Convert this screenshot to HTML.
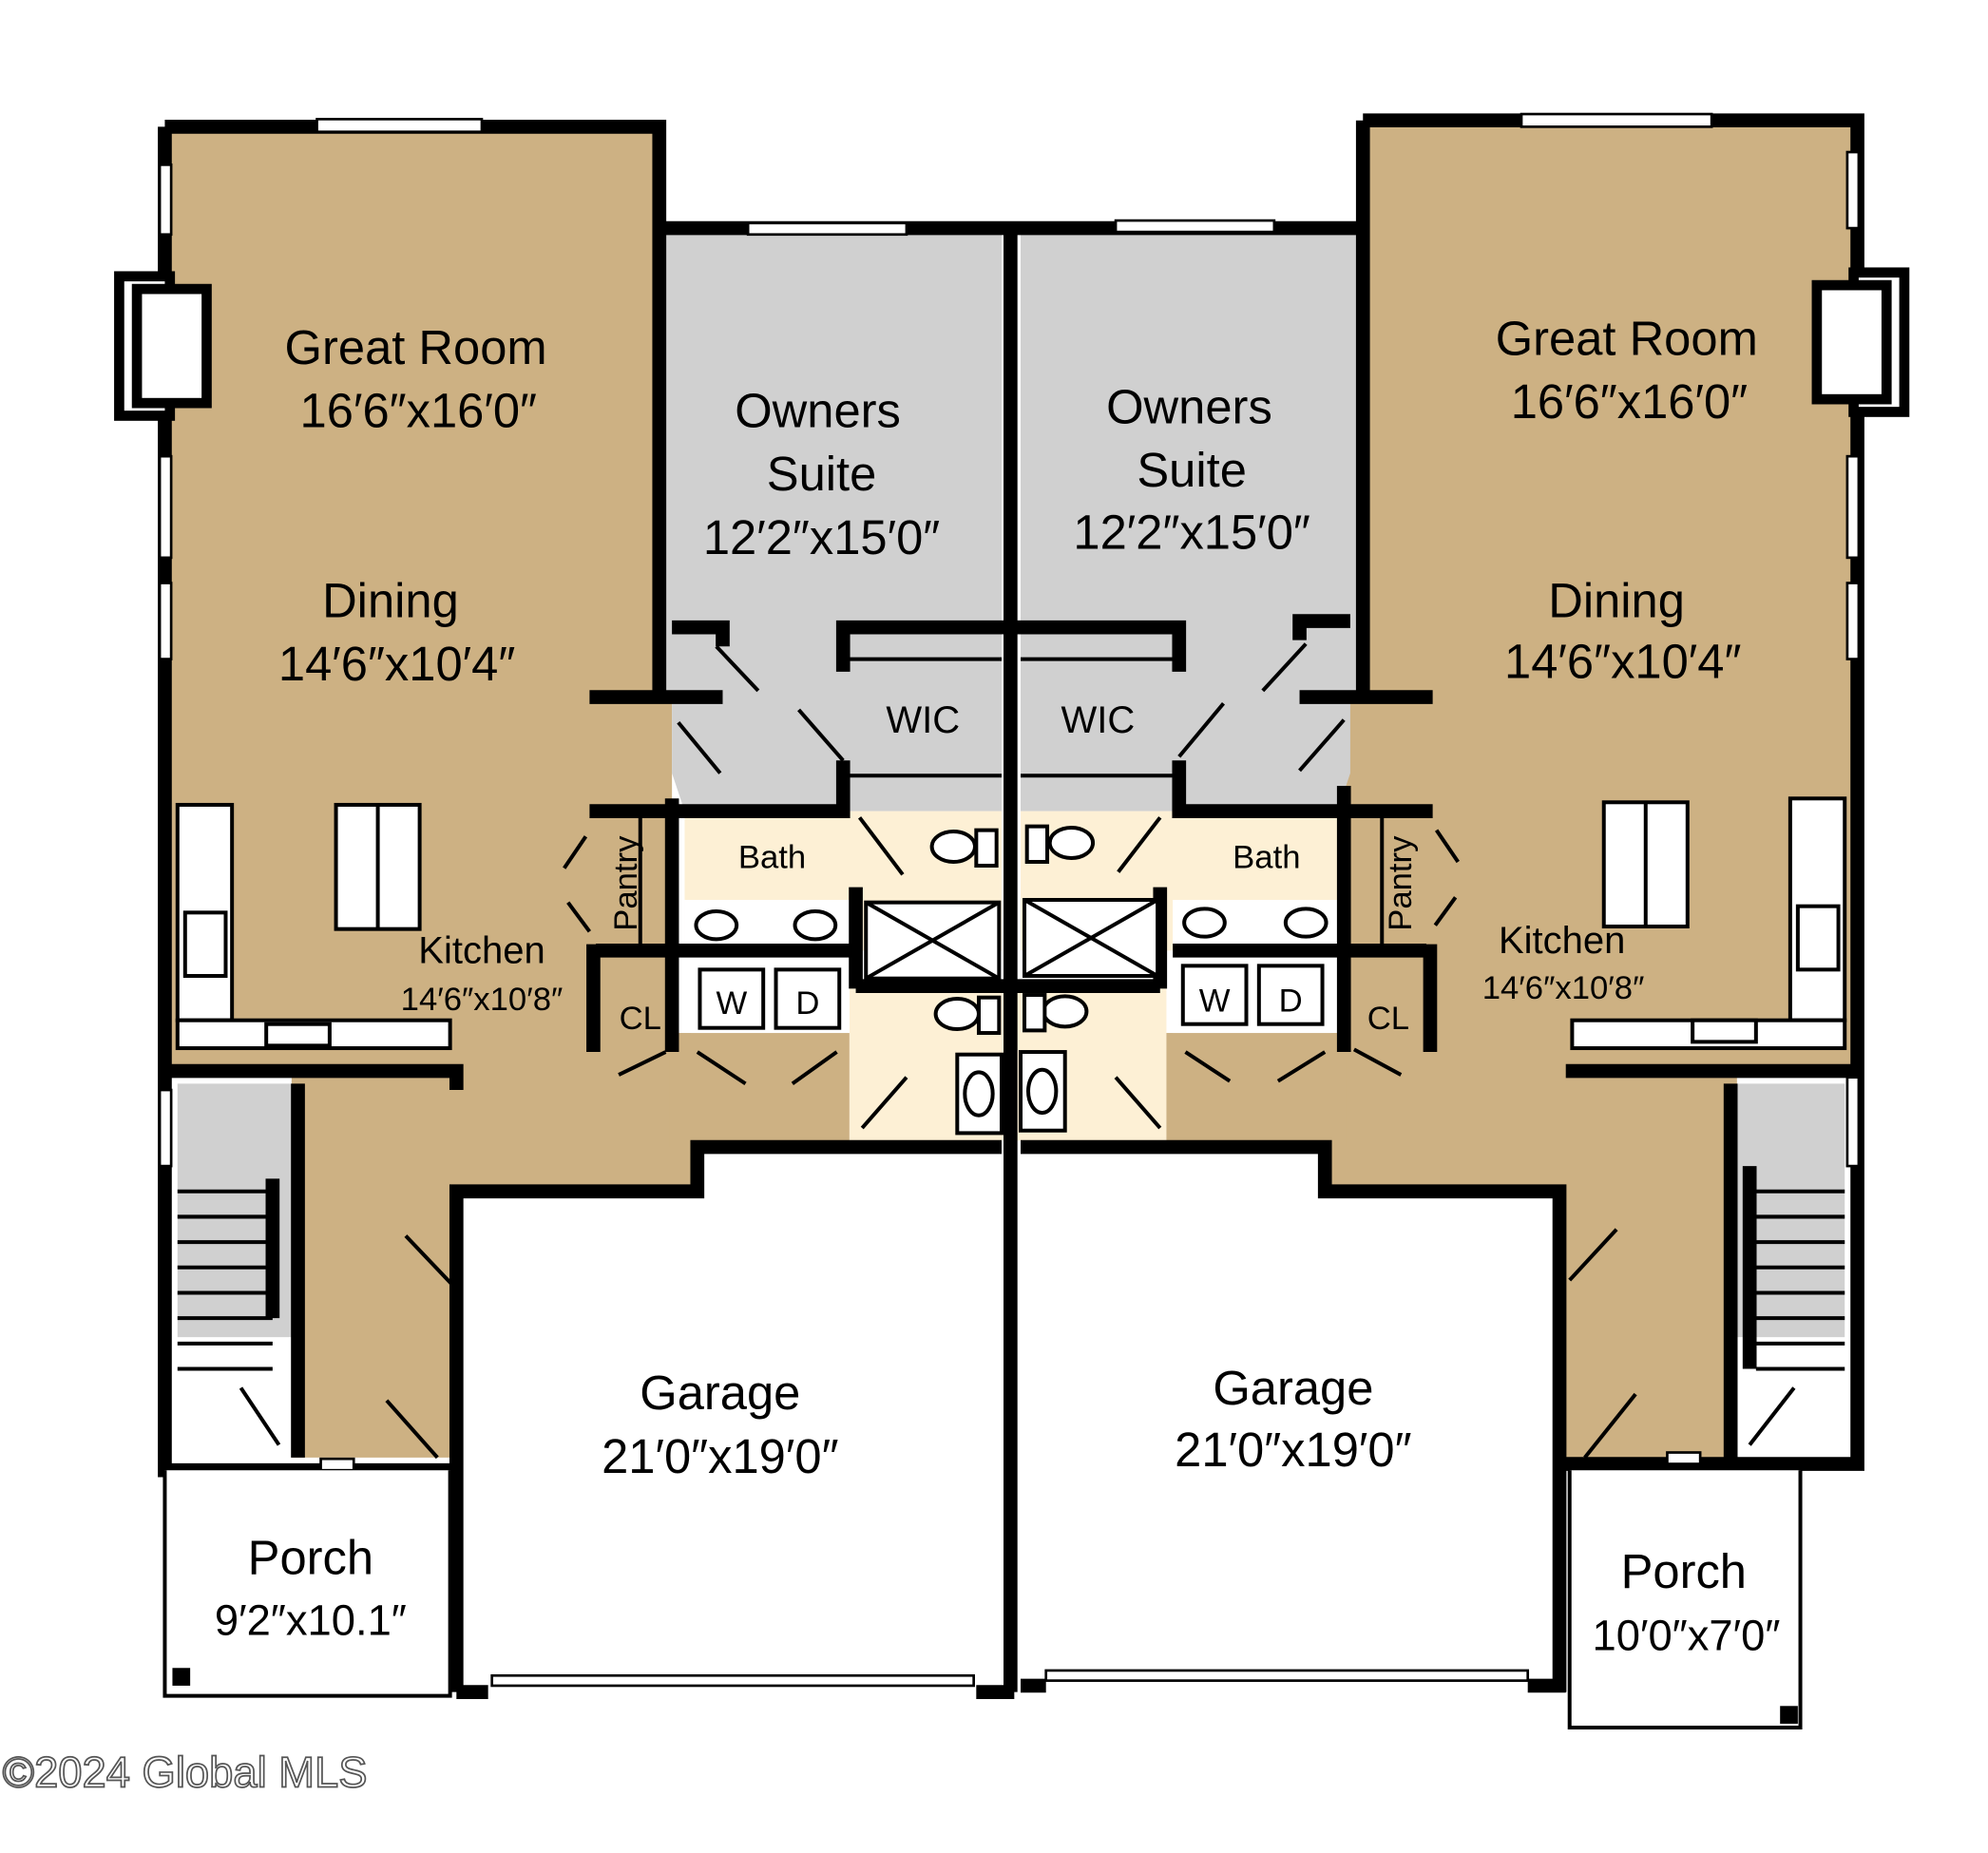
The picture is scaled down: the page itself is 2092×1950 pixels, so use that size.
<!DOCTYPE html>
<html><head><meta charset="utf-8"><style>
html,body{margin:0;padding:0;background:#fff;}
svg{display:block;}
text{font-family:"Liberation Sans Narrow","Liberation Sans",sans-serif;fill:#000;}
</style></head><body>
<svg width="2092" height="1950" viewBox="0 0 1568 1462" preserveAspectRatio="none" xmlns="http://www.w3.org/2000/svg">
<rect width="1568" height="1462" fill="#fff"/>
<!-- fills -->
<g fill="#CDB183">
<polygon points="135,105 515,105 515,545 530,545 530,900 545,900 545,940 360,940 360,1150 230,1150 230,850 135,850"/>
<polygon points="1080,100 1460,100 1460,850 1370,850 1370,1155 1230,1155 1230,935 1045,935 1045,900 1060,900 1060,545 1075,545"/>
<rect x="528" y="815" width="142" height="90"/>
<rect x="918" y="815" width="144" height="90"/>
</g>
<g fill="#D0D0D0">
<polygon points="522,185 790,185 790,640 540,640 530,610 530,545 522,545"/>
<polygon points="805,185 1072,185 1072,545 1065,545 1065,610 1055,640 805,640"/>
<rect x="140" y="855" width="90" height="200"/>
<rect x="1370" y="855" width="85" height="200"/>
</g>
<g fill="#FDF0D5">
<rect x="540" y="640" width="250" height="110"/>
<rect x="805" y="640" width="250" height="110"/>
<rect x="670" y="780" width="250" height="120"/>
</g>
<g fill="#fff">
<rect x="365" y="945" width="420" height="390"/>
<rect x="800" y="935" width="430" height="395"/>
<rect x="540" y="710" width="130" height="40"/>
<rect x="925" y="710" width="130" height="40"/>
<rect x="545" y="755" width="125" height="60"/>
<rect x="925" y="755" width="125" height="60"/>
</g>
<!-- walls -->
<g fill="none" stroke="#000" stroke-width="11">
<polyline points="130,100 520,100 520,545"/>
<polyline points="130,100 130,1160 360,1160"/>
<polyline points="1075,95 1465,95 1465,1155 1230,1155"/>
<polyline points="1075,95 1075,545"/>
<polyline points="520,180 1075,180"/>
<line x1="797" y1="175" x2="797" y2="1335"/>
<polyline points="360,1335 360,940 550,940 550,905 790,905"/>
<polyline points="805,905 1045,905 1045,940 1230,940 1230,1335"/>
<polyline points="360,1335 385,1335"/>
<polyline points="770,1335 800,1335"/>
<polyline points="805,1330 825,1330"/>
<polyline points="1205,1330 1235,1330"/>
<polyline points="135,845 360,845 360,860"/>
<polyline points="1235,845 1460,845"/>
<line x1="530" y1="630" x2="530" y2="830"/>
<line x1="1060" y1="620" x2="1060" y2="830"/>
<polyline points="465,640 665,640 665,600"/>
<polyline points="1130,640 930,640 930,600"/>
<polyline points="465,550 570,550"/>
<polyline points="1130,550 1025,550"/>
<polyline points="530,495 570,495 570,510"/>
<polyline points="1065,490 1025,490 1025,505"/>
<polyline points="665,530 665,495 930,495 930,530"/>
<line x1="468" y1="745" x2="468" y2="830"/>
<line x1="1128" y1="745" x2="1128" y2="830"/>
<line x1="470" y1="750" x2="670" y2="750"/>
<line x1="925" y1="750" x2="1125" y2="750"/>
<line x1="675" y1="700" x2="675" y2="780"/>
<line x1="915" y1="700" x2="915" y2="780"/>
<line x1="675" y1="778" x2="915" y2="778"/>
<polyline points="235,855 235,1150"/>
<polyline points="1365,855 1365,1150"/>
<line x1="215" y1="930" x2="215" y2="1040"/>
<line x1="1380" y1="920" x2="1380" y2="1080"/>
</g>
<!-- fireplaces -->
<g fill="#fff" stroke="#000" stroke-width="8">
<rect x="94" y="218" width="40" height="110"/>
<rect x="108" y="228" width="55" height="90"/>
<rect x="1462" y="215" width="40" height="110"/>
<rect x="1433" y="225" width="55" height="90"/>
</g>
<!-- windows -->
<g fill="#fff" stroke="#000" stroke-width="2">
<rect x="250" y="94" width="130" height="10"/>
<rect x="1200" y="90" width="150" height="10"/>
<rect x="590" y="176" width="125" height="9"/>
<rect x="880" y="174" width="125" height="9"/>
<rect x="126" y="130" width="9" height="55"/>
<rect x="126" y="360" width="9" height="80"/>
<rect x="126" y="460" width="9" height="60"/>
<rect x="126" y="860" width="9" height="60"/>
<rect x="1457" y="120" width="9" height="60"/>
<rect x="1457" y="360" width="9" height="80"/>
<rect x="1457" y="460" width="9" height="60"/>
<rect x="1457" y="850" width="9" height="70"/>
<rect x="253" y="1151" width="26" height="9"/>
<rect x="1315" y="1146" width="26" height="9"/>
<rect x="388" y="1322" width="380" height="8" />
<rect x="825" y="1318" width="380" height="8"/>
</g>
<!-- kitchen islands and counters -->
<g fill="#fff" stroke="#000" stroke-width="3">
<rect x="265" y="635" width="66" height="98"/><line x1="298" y1="635" x2="298" y2="733"/>
<rect x="1265" y="633" width="66" height="98"/><line x1="1298" y1="633" x2="1298" y2="731"/>
<rect x="140" y="635" width="43" height="170"/>
<rect x="146" y="720" width="32" height="50"/>
<rect x="140" y="805" width="215" height="22"/>
<rect x="210" y="808" width="50" height="17"/>
<rect x="1412" y="630" width="43" height="175"/>
<rect x="1418" y="715" width="32" height="50"/>
<rect x="1240" y="805" width="215" height="22"/>
<rect x="1335" y="805" width="50" height="17"/>
</g>
<!-- stairs -->
<g stroke="#000" stroke-width="3">
<line x1="140" y1="940" x2="215" y2="940"/><line x1="140" y1="960" x2="215" y2="960"/>
<line x1="140" y1="980" x2="215" y2="980"/><line x1="140" y1="1000" x2="215" y2="1000"/>
<line x1="140" y1="1020" x2="215" y2="1020"/><line x1="140" y1="1040" x2="215" y2="1040"/>
<line x1="140" y1="1060" x2="215" y2="1060"/><line x1="140" y1="1080" x2="215" y2="1080"/>
<line x1="1385" y1="940" x2="1455" y2="940"/><line x1="1385" y1="960" x2="1455" y2="960"/>
<line x1="1385" y1="980" x2="1455" y2="980"/><line x1="1385" y1="1000" x2="1455" y2="1000"/>
<line x1="1385" y1="1020" x2="1455" y2="1020"/><line x1="1385" y1="1040" x2="1455" y2="1040"/>
<line x1="1385" y1="1060" x2="1455" y2="1060"/><line x1="1385" y1="1080" x2="1455" y2="1080"/>
<!-- door swings -->
<line x1="320" y1="975" x2="358" y2="1015"/><line x1="305" y1="1105" x2="345" y2="1150"/>
<line x1="190" y1="1095" x2="220" y2="1140"/>
<line x1="1275" y1="970" x2="1238" y2="1010"/><line x1="1290" y1="1100" x2="1250" y2="1150"/>
<line x1="1415" y1="1095" x2="1380" y2="1140"/>
<line x1="565" y1="510" x2="598" y2="545"/><line x1="535" y1="570" x2="568" y2="610"/>
<line x1="630" y1="560" x2="665" y2="600"/>
<line x1="678" y1="645" x2="712" y2="690"/>
<line x1="1030" y1="508" x2="996" y2="545"/><line x1="1060" y1="568" x2="1025" y2="608"/>
<line x1="965" y1="555" x2="930" y2="597"/>
<line x1="915" y1="645" x2="882" y2="688"/>
<line x1="462" y1="660" x2="445" y2="685"/><line x1="448" y1="712" x2="465" y2="735"/>
<line x1="1133" y1="655" x2="1150" y2="680"/><line x1="1148" y1="708" x2="1132" y2="730"/>
<line x1="488" y1="848" x2="525" y2="830"/><line x1="550" y1="830" x2="588" y2="855"/>
<line x1="625" y1="855" x2="660" y2="830"/>
<line x1="1105" y1="848" x2="1068" y2="828"/><line x1="1045" y1="830" x2="1008" y2="853"/>
<line x1="970" y1="853" x2="935" y2="830"/>
<line x1="715" y1="850" x2="680" y2="890"/><line x1="880" y1="850" x2="915" y2="890"/>
<line x1="670" y1="520" x2="790" y2="520"/><line x1="805" y1="520" x2="925" y2="520"/>
<line x1="670" y1="612" x2="790" y2="612"/><line x1="805" y1="612" x2="925" y2="612"/>
<line x1="505" y1="645" x2="505" y2="745"/><line x1="1090" y1="645" x2="1090" y2="745"/>
</g>
<!-- showers -->
<g fill="#fff" stroke="#000" stroke-width="3">
<rect x="683" y="712" width="105" height="60"/><line x1="683" y1="712" x2="788" y2="772"/><line x1="788" y1="712" x2="683" y2="772"/>
<rect x="808" y="710" width="105" height="60"/><line x1="808" y1="710" x2="913" y2="770"/><line x1="913" y1="710" x2="808" y2="770"/>
<ellipse cx="565" cy="730" rx="16" ry="11"/><ellipse cx="643" cy="730" rx="16" ry="11"/>
<ellipse cx="950" cy="728" rx="16" ry="11"/><ellipse cx="1030" cy="728" rx="16" ry="11"/>
<ellipse cx="752" cy="668" rx="17" ry="12"/><rect x="770" y="655" width="16" height="28"/>
<ellipse cx="845" cy="665" rx="17" ry="12"/><rect x="810" y="652" width="16" height="28"/>
<ellipse cx="755" cy="800" rx="17" ry="12"/><rect x="772" y="787" width="16" height="28"/>
<ellipse cx="840" cy="798" rx="17" ry="12"/><rect x="808" y="785" width="16" height="28"/>
<rect x="755" y="832" width="35" height="62"/><ellipse cx="772" cy="863" rx="11" ry="17"/>
<rect x="805" y="830" width="35" height="62"/><ellipse cx="822" cy="861" rx="11" ry="17"/>
<rect x="552" y="765" width="50" height="46"/><rect x="612" y="765" width="50" height="46"/>
<rect x="933" y="762" width="50" height="46"/><rect x="993" y="762" width="50" height="46"/>
</g>
<!-- porches -->
<g fill="#fff" stroke="#000" stroke-width="3">
<polyline points="130,1160 130,1338 355,1338 355,1160"/>
<polyline points="1238,1160 1238,1363 1420,1363 1420,1160"/>
</g>
<rect x="136" y="1316" width="14" height="14" fill="#000"/>
<rect x="1404" y="1346" width="14" height="14" fill="#000"/>
<!-- labels -->
<g text-anchor="middle" font-size="38">
<text x="328" y="287">Great Room</text><text x="330" y="337">16′6″x16′0″</text>
<text x="308" y="487">Dining</text><text x="313" y="537">14′6″x10′4″</text>
<text x="1283" y="280">Great Room</text><text x="1285" y="330">16′6″x16′0″</text>
<text x="1275" y="487">Dining</text><text x="1280" y="535">14′6″x10′4″</text>
<text x="645" y="337">Owners</text><text x="648" y="387">Suite</text><text x="648" y="437">12′2″x15′0″</text>
<text x="938" y="334">Owners</text><text x="940" y="384">Suite</text><text x="940" y="433">12′2″x15′0″</text>
<text x="568" y="1112">Garage</text><text x="568" y="1162">21′0″x19′0″</text>
<text x="1020" y="1108">Garage</text><text x="1020" y="1157">21′0″x19′0″</text>
<text x="245" y="1242">Porch</text><text x="245" y="1290" font-size="34">9′2″x10.1″</text>
<text x="1328" y="1253">Porch</text><text x="1330" y="1302" font-size="34">10′0″x7′0″</text>
</g>
<g text-anchor="middle" font-size="30">
<text x="728" y="578">WIC</text><text x="866" y="578">WIC</text>
<text x="380" y="760">Kitchen</text><text x="1232" y="752">Kitchen</text>
</g>
<g text-anchor="middle" font-size="26">
<text x="609" y="685">Bath</text><text x="999" y="685">Bath</text>
<text x="380" y="797">14′6″x10′8″</text><text x="1233" y="788">14′6″x10′8″</text>
<text x="505" y="812">CL</text><text x="1095" y="812">CL</text>
<text x="577" y="800">W</text><text x="637" y="800">D</text>
<text x="958" y="798">W</text><text x="1018" y="798">D</text>
<text transform="translate(502,697) rotate(-90)">Pantry</text>
<text transform="translate(1113,697) rotate(-90)">Pantry</text>
</g>
<text x="2" y="1410" font-size="34" fill="#fff" stroke="#555" stroke-width="1.3" style="fill:#fff">©2024 Global MLS</text>
</svg>
</body></html>
